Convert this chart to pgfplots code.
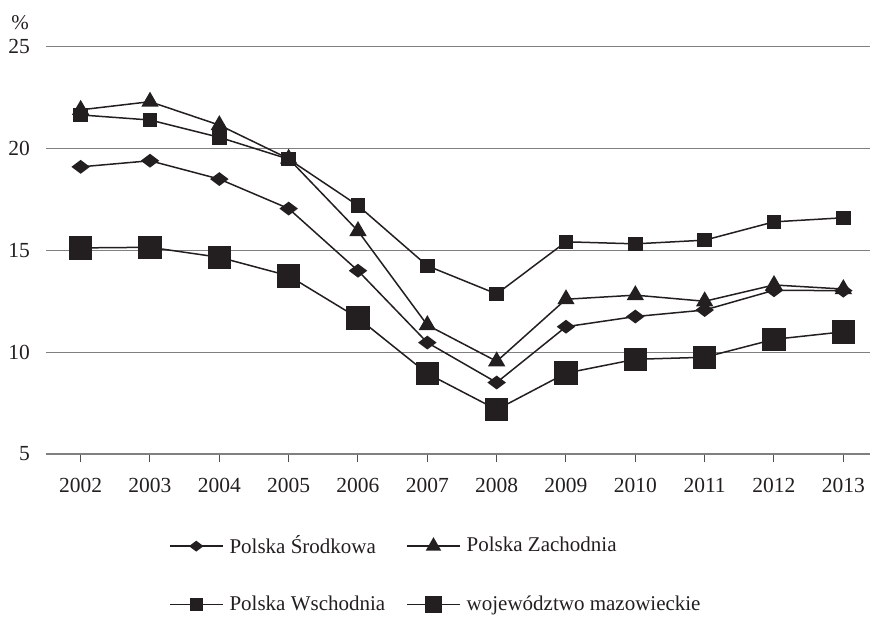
\documentclass[border=0pt]{standalone}
\usepackage{fontspec}
\setmainfont{Liberation Serif}
\usepackage{pgfplots}
\pgfplotsset{compat=1.18}
\definecolor{ink}{HTML}{231F20}
\definecolor{gridgray}{HTML}{808080}
\pgfplotstableread{
year srod zach wsch maz
2002 19.10 21.90 21.65 15.12
2003 19.40 22.30 21.40 15.15
2004 18.50 21.15 20.55 14.66
2005 17.05 19.50 19.48 13.75
2006 14.00 15.95 17.20 11.68
2007 10.47 11.33 14.24 8.95
2008 8.51 9.55 12.86 7.18
2009 11.25 12.60 15.42 8.97
2010 11.75 12.80 15.32 9.65
2011 12.07 12.50 15.50 9.75
2012 13.04 13.30 16.40 10.63
2013 13.02 13.10 16.60 11.00
}\datatable
\begin{document}
\fontsize{21}{25}\selectfont
\begin{tikzpicture}
\path[use as bounding box] (-46pt,-162pt) rectangle (824pt,454pt);
\begin{axis}[
  name=ax,
  at={(0pt,0pt)}, anchor=south west,
  scale only axis, width=832pt, height=407.3pt,
  xmin=2001.5, xmax=2013.5, ymin=5, ymax=25,
  xtick={2002,...,2013}, ytick={5,10,15,20,25},
  /pgf/number format/1000 sep={},
  /pgf/number format/assume math mode=true,
  ymajorgrids, grid style={draw=gridgray, line width=1.1pt},
  axis x line*=bottom, axis y line*=left,
  x axis line style={draw=gridgray, line width=1.1pt, -},
  y axis line style={draw=none},
  ytick style={draw=none},
  xtick style={draw=ink!80, line width=1pt},
  tick align=outside, major tick length=8pt,
  ticklabel style={font=\fontsize{21.5}{25}\selectfont, text=ink},
  yticklabel style={xshift=-1pt},
  xticklabel style={yshift=-9pt},
  every axis plot/.append style={line width=1.5pt, color=ink},
  legend columns=2,
  legend cell align=left,
  legend style={at={(axis description cs:0.144,-0.19)}, anchor=north west,
    draw=none, fill=none, font=\fontsize{21}{25}\selectfont, text=ink,
    /tikz/every even column/.append style={column sep=19pt},
    /tikz/every odd column/.append style={column sep=4pt},
    row sep=35pt},
  legend image code/.code={\draw[mark repeat=2,mark phase=2,#1] plot coordinates {(0pt,0pt) (26.5pt,0pt) (53pt,0pt)};},
]
\addplot[forget plot, mark=diamond*, mark size=8pt, mark options={rotate=90, fill=ink, draw=ink}] table[x=year,y=srod] {\datatable};
\addplot[forget plot, mark=triangle*, mark size=8.5pt, mark options={fill=ink, draw=ink}] table[x=year,y=zach] {\datatable};
\addplot[forget plot, mark=square*, mark size=6.5pt, mark options={fill=ink, draw=ink}] table[x=year,y=wsch] {\datatable};
\addplot[forget plot, mark=square*, mark size=11pt, mark options={fill=ink, draw=ink}] table[x=year,y=maz] {\datatable};
\addlegendimage{ink, line width=1.5pt, mark=diamond*, mark size=6pt, mark options={rotate=90, fill=ink, draw=ink}}
\addlegendentry{Polska Środkowa}
\addlegendimage{ink, line width=1.5pt, mark=triangle*, mark size=7.5pt, mark options={fill=ink, draw=ink}}
\addlegendentry{Polska Zachodnia}
\addlegendimage{ink, line width=1.5pt, mark=square*, mark size=5.5pt, mark options={fill=ink, draw=ink}}
\addlegendentry{Polska Wschodnia}
\addlegendimage{ink, line width=1.5pt, mark=square*, mark size=8pt, mark options={fill=ink, draw=ink}}
\addlegendentry{województwo mazowieckie}
\end{axis}
\node[anchor=center, text=ink, font=\fontsize{21}{25}\selectfont] at ([xshift=-26pt, yshift=24pt]ax.north west) {\%};
\end{tikzpicture}
\end{document}
